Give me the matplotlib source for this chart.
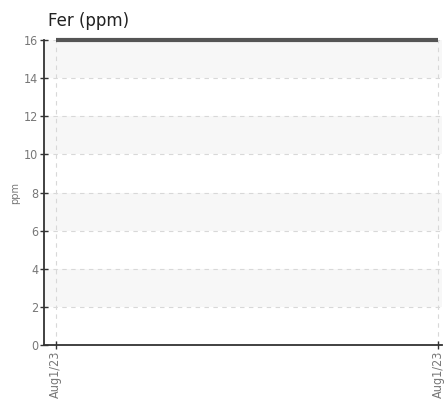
import matplotlib
matplotlib.use("Agg")
import matplotlib.pyplot as plt

dates = ["Aug1/23", "Aug1/23"]
values = [16, 16]
yticks = [0, 2, 4, 6, 8, 10, 12, 14, 16]

fig = plt.figure(figsize=(4.44, 4.07), dpi=100)
ax = fig.add_axes([0.099, 0.152, 0.896, 0.75])

x = list(range(len(dates)))
ax.set_xlim(-0.031, 1.01)
ax.set_ylim(0, 16)

for lo in [2, 6, 10, 14]:
    ax.axhspan(lo, lo + 2, color="#f7f7f7", zorder=0, lw=0)

ax.plot(x, values, color="#555555", lw=3, zorder=3, solid_capstyle="butt", clip_on=False)

ax.set_yticks(yticks)
ax.set_xticks(x)
ax.set_xticklabels(dates, rotation=90)
ax.grid(True, color="#d8d8d8", linestyle=(0, (4, 4)), lw=0.8, zorder=1)
ax.set_axisbelow(True)

for s in ["top", "right"]:
    ax.spines[s].set_visible(False)
for s in ["left", "bottom"]:
    ax.spines[s].set_color("#333333")
    ax.spines[s].set_linewidth(1.3)

ax.tick_params(axis="both", direction="inout", length=6, width=1, color="#333333",
               labelcolor="#777777", labelsize=9, pad=1)
for lab in ax.get_xticklabels() + ax.get_yticklabels():
    lab.set_fontstretch("condensed")
    lab.set_family("DejaVu Sans")

ax.set_ylabel("ppm", fontsize=7, color="#777777", labelpad=9)
ax.yaxis.set_label_coords(-0.06, 0.5)
ax.set_title("Fer (ppm)", loc="left", fontsize=12, color="#222222", pad=10, x=0.01)

fig.savefig("out.png", dpi=100)
